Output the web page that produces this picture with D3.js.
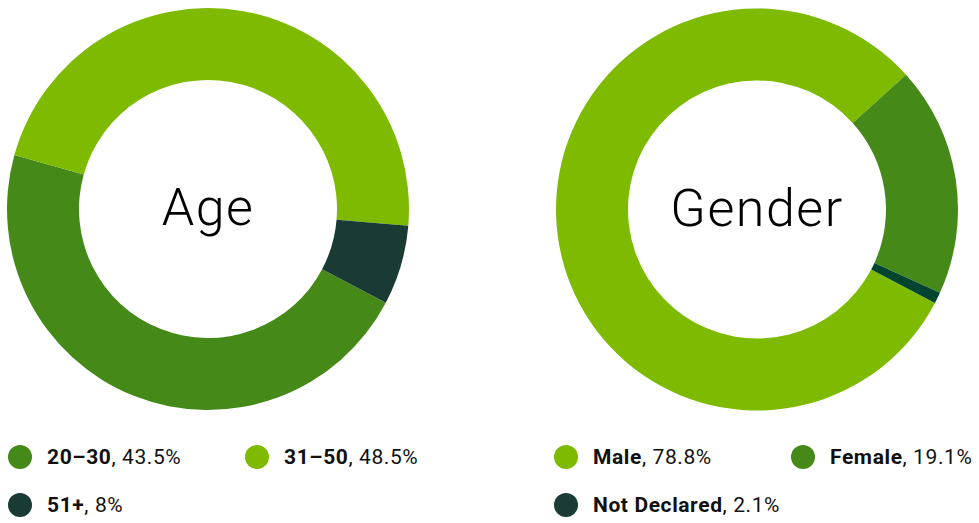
<!DOCTYPE html>
<html>
<head>
<meta charset="utf-8">
<script src="https://cdn.jsdelivr.net/npm/d3@7"></script>
<style>
  body { margin: 0; background: #fff; }
  svg { display: block; }
</style>
</head>
<body>
<svg id="chart" width="979" height="523"></svg>
<script>
// Age donut: arc shares as drawn, legend labels as printed
const ageCats = ["20–30", "31–50", "51+"];
const ageShares = [46.6, 47.0, 6.4];
const ageLabels = ["43.5%", "48.5%", "8%"];
const ageColors = ["#458a18", "#7dba00", "#1a3b35"];

// Gender donut
const genderCats = ["Male", "Female", "Not Declared"];
const genderShares = [80.6, 18.5, 0.9];
const genderLabels = ["78.8%", "19.1%", "2.1%"];
const genderColors = ["#7dba00", "#458a18", "#00452f"];
const genderLegendColors = ["#7dba00", "#458a18", "#1a3c36"];

const svg = d3.select("#chart");
const outerR = 201, innerR = 129;
const arc = d3.arc().innerRadius(innerR).outerRadius(outerR);
const deg = Math.PI / 180;

function donut(cx, cy, title, shares, colors, startDeg) {
  const pie = d3.pie().sort(null).value(d => d)
    .startAngle(startDeg * deg)
    .endAngle(startDeg * deg + 2 * Math.PI);
  const g = svg.append("g").attr("transform", `translate(${cx},${cy})`);
  g.selectAll("path")
    .data(pie(shares))
    .enter().append("path")
      .attr("d", arc)
      .attr("fill", (d, i) => colors[i]);
  g.append("text")
    .attr("y", 16)
    .attr("text-anchor", "middle")
    .style("font-family", "Roboto, 'DejaVu Sans', sans-serif")
    .style("font-weight", 300)
    .style("font-size", "52px")
    .style("letter-spacing", "1.5px")
    .style("fill", "#000")
    .text(title);
}

donut(208, 209, "Age", ageShares, ageColors, 117.8);
donut(757, 209.5, "Gender", genderShares, genderColors, 117.7);

// Legends
function legend(items, pos) {
  const lg = svg.append("g");
  items.forEach((it, i) => {
    const p = pos[i];
    lg.append("circle")
      .attr("cx", p[0]).attr("cy", p[1])
      .attr("r", 12)
      .attr("fill", it.color);
    const t = lg.append("text")
      .attr("x", p[0] + 27)
      .attr("y", p[1] + 7)
      .style("font-family", "Roboto, 'DejaVu Sans', sans-serif")
      .style("font-size", "21px")
      .style("letter-spacing", "0.6px")
      .style("fill", "#111");
    t.append("tspan").style("font-weight", 700).text(it.cat);
    t.append("tspan").style("font-weight", 400).text(", " + it.label);
  });
}

legend(ageCats.map((c, i) => ({cat: c, label: ageLabels[i], color: ageColors[i]})),
  [[20, 457], [257, 457], [20, 505]]);
legend(genderCats.map((c, i) => ({cat: c, label: genderLabels[i], color: genderLegendColors[i]})),
  [[566, 457], [803, 457], [566, 505]]);
</script>
</body>
</html>
